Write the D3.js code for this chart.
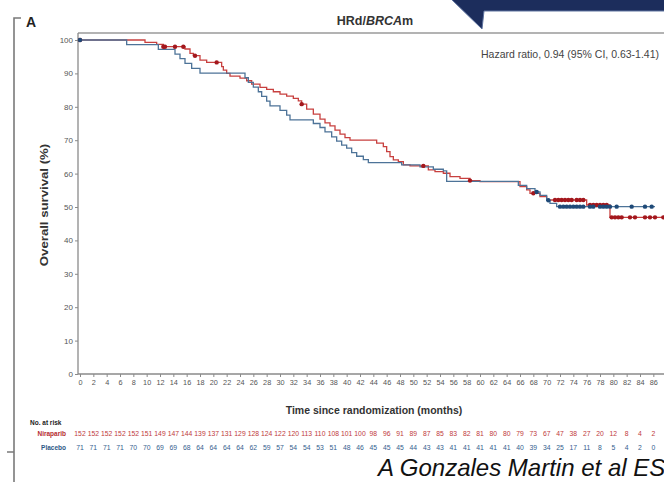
<!DOCTYPE html>
<html>
<head>
<meta charset="utf-8">
<script src="https://cdn.jsdelivr.net/npm/d3@7/dist/d3.min.js"></script>
<style>
  html, body { margin: 0; padding: 0; background: #fff; overflow: hidden; }
  svg { display: block; font-family: "Liberation Sans", Arial, sans-serif; }
</style>
</head>
<body>
<svg id="chart" width="664" height="482"></svg>
<script>
// Kaplan-Meier overall survival, HRd/BRCAm subgroup
// Step curves: [month, survival %] at each drop
const niraparibSteps = [
  [0, 100], [9.75, 99.3], [11.5, 98.7], [12.5, 98.0], [15.75, 97.3], [16.5, 96.0],
  [17, 95.3], [18, 94.0], [19, 93.3], [21.25, 92.0], [21.5, 91.0], [22, 90.0],
  [22.5, 89.2], [24, 88.6], [25, 87.8], [25.75, 86.8], [27, 85.8], [28, 85.2],
  [29, 84.5], [30, 83.8], [31, 83.2], [32, 82.5], [32.75, 81.8], [33.25, 80.8],
  [34, 79.3], [35, 77.8], [36, 76.3], [36.75, 75.2], [37.5, 74.3], [38.25, 73.0],
  [39, 71.8], [39.75, 70.8], [40.5, 70.0], [44.5, 69.1], [45.5, 68.1], [46, 66.6],
  [46.5, 65.1], [47, 64.1], [47.75, 63.6], [48.5, 62.6], [49.5, 62.3], [52.25, 61.1],
  [53.25, 60.6], [54.5, 60.1], [55.5, 59.1], [57, 58.6], [58.5, 57.9], [60, 57.6],
  [66, 56.1], [67, 55.1], [67.5, 54.1], [69, 53.1], [70, 52.1], [76, 50.6],
  [79.5, 46.9], [87.75, 46.9]
];
const placeboSteps = [
  [0, 100], [7, 98.6], [11.75, 97.2], [14.25, 95.8], [15, 94.4], [15.75, 93.0],
  [16.75, 91.5], [18, 90.1], [24.75, 88.7], [25.25, 87.3], [26, 85.9], [26.75, 84.5],
  [27.25, 83.1], [28, 81.7], [28.5, 80.3], [30, 78.9], [31, 77.5], [31.5, 76.1],
  [35, 75.0], [36, 73.8], [36.75, 72.5], [37.75, 71.0], [38.5, 69.7], [39.25, 68.5],
  [40, 67.6], [40.75, 66.3], [41.5, 65.2], [42.5, 64.2], [43.25, 63.3], [48.25, 62.6],
  [51, 62.0], [53, 61.3], [54.5, 60.8], [55, 57.7], [65.75, 56.5], [67, 55.5],
  [68.25, 54.5], [69, 53.5], [70, 52.0], [70.5, 51.1], [71.5, 50.1], [86.25, 50.1]
];

// Censoring times (months)
const niraparibCensored = [0, 12.5, 12.75, 14.25, 15.5, 17.25, 20.5, 33.25, 51.5, 58.5, 68,
  71.25, 71.75, 72.25, 72.75, 73.25, 73.75, 74.5, 75, 75.5, 76.5, 77, 77.5, 78, 78.5, 79,
  79.75, 80.25, 80.75, 81.25, 82.5, 83.25, 84.75, 85.5, 86.25, 87.5];
const placeboCensored = [0, 68.5, 70.25, 72, 72.5, 73, 73.5, 74, 74.5, 75, 75.5, 76.5, 77,
  78, 78.5, 79, 79.5, 80.5, 82.75, 84.75, 85.75];

// Axis ticks
const xTicks = d3.range(0, 88, 2);
const yTicks = d3.range(0, 101, 10);

// Number at risk at each x tick
const riskNiraparib = [152, 152, 152, 152, 152, 151, 149, 147, 144, 139, 137, 131, 129, 128, 124,
  122, 120, 113, 110, 108, 101, 100, 98, 96, 91, 89, 87, 85, 83, 82, 81, 80, 80, 79, 73, 67,
  47, 38, 27, 20, 12, 8, 4, 2];
const riskPlacebo = [71, 71, 71, 71, 70, 70, 69, 69, 68, 64, 64, 64, 64, 62, 59, 57, 54, 54, 53,
  51, 48, 46, 45, 45, 45, 44, 43, 43, 41, 41, 41, 41, 41, 40, 39, 34, 25, 17, 11, 8, 5, 4, 2, 0];

const RED = "#c8403f", RED_DARK = "#a3171d";
const BLUE = "#4d7398", BLUE_DARK = "#1f4a78";

const svg = d3.select("#chart");

const x = d3.scaleLinear().domain([0, 90]).range([80, 680]);
const y = d3.scaleLinear().domain([0, 100]).range([374, 40]);

// Header banner
svg.append("polygon")
  .attr("points", "450,-2 482,29 484,11 670,11 670,-2")
  .attr("fill", "#1c2d5c").attr("stroke", "#5f74a0").attr("stroke-width", 1);

// Panel bracket
svg.append("path")
  .attr("d", "M21,18 H14 V490 M14,452 H7")
  .attr("fill", "none").attr("stroke", "#7a7a7a").attr("stroke-width", 1.6);

svg.append("text").attr("x", 26).attr("y", 27)
  .attr("font-size", 14).attr("font-weight", "bold").attr("fill", "#222").text("A");

const title = svg.append("text").attr("x", 375).attr("y", 25)
  .attr("text-anchor", "middle").attr("font-size", 12.5).attr("font-weight", "bold").attr("fill", "#333");
title.append("tspan").text("HRd/");
title.append("tspan").attr("font-style", "italic").text("BRCA");
title.append("tspan").text("m");

// Top frame line
svg.append("line").attr("x1", 78).attr("x2", 664).attr("y1", 33).attr("y2", 33)
  .attr("stroke", "#9a9a9a").attr("stroke-width", 1.5);

// Y axis
const yAxis = svg.append("g").attr("transform", "translate(78,0)")
  .call(d3.axisLeft(y).tickValues(yTicks).tickSize(3).tickPadding(2).tickSizeOuter(0));
yAxis.select(".domain").attr("stroke", "#8a8a8a").attr("stroke-width", 1.3)
  .attr("d", `M0,${y(0)}V33`);
yAxis.selectAll(".tick line").attr("stroke", "#8a8a8a");
yAxis.selectAll(".tick text").attr("font-size", 8).attr("fill", "#555")
  .attr("font-family", "Liberation Sans, Arial, sans-serif");

// X axis
const xAxis = svg.append("g").attr("transform", `translate(0,${y(0)})`)
  .call(d3.axisBottom(x).tickValues(xTicks).tickSize(3).tickPadding(3).tickSizeOuter(0));
xAxis.select(".domain").attr("stroke", "#8a8a8a").attr("stroke-width", 1.3)
  .attr("d", `M78,0H680`);
xAxis.selectAll(".tick line").attr("stroke", "#8a8a8a");
xAxis.selectAll(".tick text").attr("font-size", 7.3).attr("fill", "#555")
  .attr("font-family", "Liberation Sans, Arial, sans-serif");

// Axis titles
svg.append("text").attr("transform", "translate(48,205) rotate(-90) scale(1.2,1)")
  .attr("text-anchor", "middle").attr("font-size", 11).attr("font-weight", "bold").attr("fill", "#333")
  .text("Overall survival (%)");
svg.append("text").attr("x", 374).attr("y", 414)
  .attr("text-anchor", "middle").attr("font-size", 10.5).attr("font-weight", "bold").attr("fill", "#333")
  .text("Time since randomization (months)");

svg.append("text").attr("x", 659).attr("y", 58)
  .attr("text-anchor", "end").attr("font-size", 10.5).attr("fill", "#444")
  .text("Hazard ratio, 0.94 (95% CI, 0.63-1.41)");

// KM curves
const stepLine = d3.line().x(d => x(d[0])).y(d => y(d[1])).curve(d3.curveStepAfter);
const valueAt = (steps, t) => {
  let v = steps[0][1];
  for (const s of steps) { if (s[0] <= t) v = s[1]; }
  return v;
};

svg.append("path").datum(niraparibSteps).attr("d", stepLine)
  .attr("fill", "none").attr("stroke", RED).attr("stroke-width", 1.3);
svg.append("path").datum(placeboSteps).attr("d", stepLine)
  .attr("fill", "none").attr("stroke", BLUE).attr("stroke-width", 1.3);

svg.append("g").selectAll("circle").data(niraparibCensored).join("circle")
  .attr("cx", d => x(d)).attr("cy", d => y(valueAt(niraparibSteps, d)))
  .attr("r", 2.2).attr("fill", RED_DARK);
svg.append("g").selectAll("circle").data(placeboCensored).join("circle")
  .attr("cx", d => x(d)).attr("cy", d => y(valueAt(placeboSteps, d)))
  .attr("r", 2.2).attr("fill", BLUE_DARK);

// Numbers at risk
svg.append("text").attr("x", 30).attr("y", 425)
  .attr("font-size", 6.5).attr("font-weight", "bold").attr("fill", "#222").text("No. at risk");
svg.append("text").attr("x", 66).attr("y", 436).attr("text-anchor", "end")
  .attr("font-size", 6.5).attr("font-weight", "bold").attr("fill", "#b52b2e").text("Niraparib");
svg.append("text").attr("x", 66).attr("y", 450).attr("text-anchor", "end")
  .attr("font-size", 6.5).attr("font-weight", "bold").attr("fill", "#2d5886").text("Placebo");

svg.append("g").selectAll("text").data(riskNiraparib).join("text")
  .attr("x", (d, i) => x(xTicks[i])).attr("y", 436)
  .attr("text-anchor", "middle").attr("font-size", 6.8).attr("fill", "#c0393b").text(d => d);
svg.append("g").selectAll("text").data(riskPlacebo).join("text")
  .attr("x", (d, i) => x(xTicks[i])).attr("y", 450)
  .attr("text-anchor", "middle").attr("font-size", 6.8).attr("fill", "#34608e").text(d => d);

// Citation
svg.append("text").attr("x", 378).attr("y", 476)
  .attr("font-size", 24).attr("font-style", "italic").attr("fill", "#111")
  .text("A Gonzales Martin et al ES");
</script>
</body>
</html>
